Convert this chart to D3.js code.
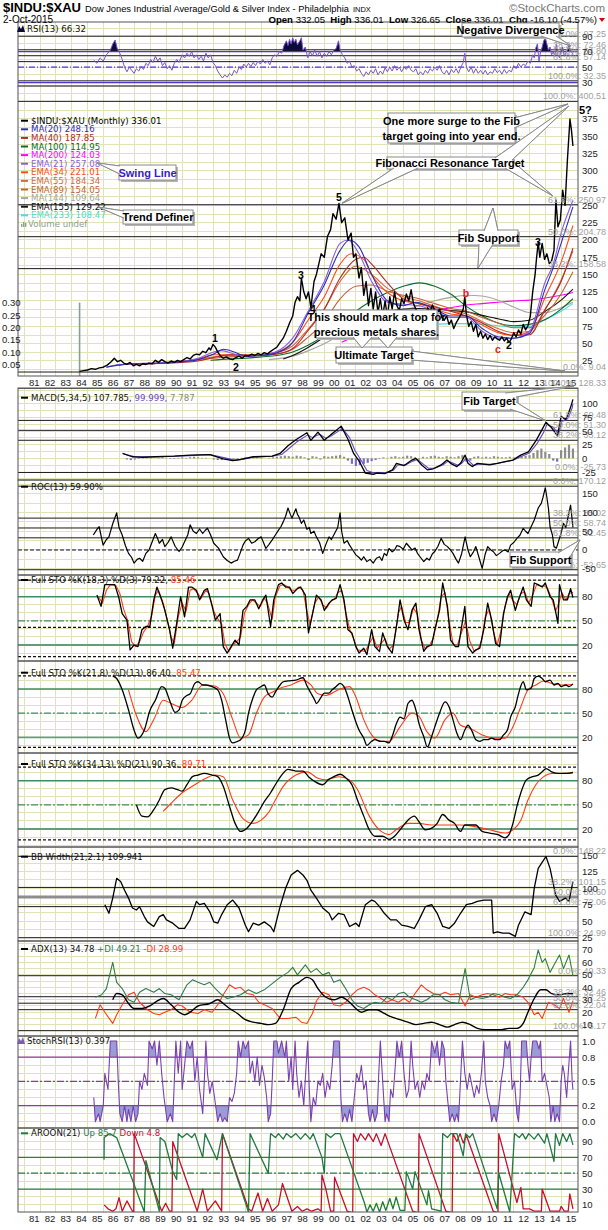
<!DOCTYPE html>
<html><head><meta charset="utf-8">
<script src="https://cdn.jsdelivr.net/npm/d3@7"></script>
<style>html,body{margin:0;padding:0;background:#fff;}svg{display:block;}</style>
</head><body>
<svg id="chart" width="608" height="1230" xmlns="http://www.w3.org/2000/svg"></svg>
<script>
// ================= DATA =================
const yearTicks = d3.range(1981, 2016);
const yearLabels = yearTicks.map(y => String(y % 100).padStart(2, '0'));

const price = [[1984.5,10],[1984.75,11],[1985.0,12],[1985.25,14],[1985.5,13],[1985.75,15],[1986.0,16],[1986.25,19],[1986.5,24],[1986.7,29],[1986.9,24],[1987.1,26],[1987.3,22],[1987.5,20],[1987.7,23],[1987.9,18],[1988.1,20],[1988.3,18],[1988.5,21],[1988.7,20],[1988.9,22],[1989.1,21],[1989.3,26],[1989.5,23],[1989.7,27],[1989.9,24],[1990.1,22],[1990.3,25],[1990.5,23],[1990.7,26],[1990.9,24],[1991.1,27],[1991.3,30],[1991.5,28],[1991.7,33],[1991.9,35],[1992.1,34],[1992.3,39],[1992.5,37],[1992.7,44],[1992.8,41],[1992.95,49],[1993.1,45],[1993.25,38],[1993.4,33],[1993.6,29],[1993.8,31],[1994.0,28],[1994.2,27],[1994.4,30],[1994.6,32],[1994.8,29],[1995.0,33],[1995.2,32],[1995.4,35],[1995.6,33],[1995.8,36],[1996.0,34],[1996.2,37],[1996.4,35],[1996.6,39],[1996.8,42],[1997.0,45],[1997.2,52],[1997.4,58],[1997.6,68],[1997.8,80],[1998.0,90],[1998.15,110],[1998.3,118],[1998.45,112],[1998.55,145],[1998.7,125],[1998.85,115],[1999.0,125],[1999.15,102],[1999.35,140],[1999.5,150],[1999.65,165],[1999.8,180],[2000.0,175],[2000.2,205],[2000.4,215],[2000.55,238],[2000.75,230],[2000.93,253],[2001.1,225],[2001.3,232],[2001.5,200],[2001.7,210],[2001.85,175],[2002.0,180],[2002.2,145],[2002.35,160],[2002.5,120],[2002.65,140],[2002.8,105],[2002.95,130],[2003.1,100],[2003.25,125],[2003.4,95],[2003.55,115],[2003.7,90],[2003.85,112],[2004.0,88],[2004.15,118],[2004.3,100],[2004.45,125],[2004.6,105],[2004.75,98],[2004.9,115],[2005.05,108],[2005.2,122],[2005.35,112],[2005.5,128],[2005.65,108],[2005.8,100],[2005.95,92],[2006.1,88],[2006.25,98],[2006.4,90],[2006.55,102],[2006.7,96],[2006.85,106],[2007.0,98],[2007.15,92],[2007.3,100],[2007.45,88],[2007.6,84],[2007.75,90],[2007.9,78],[2008.05,84],[2008.2,72],[2008.35,80],[2008.5,86],[2008.65,92],[2008.8,100],[2008.9,118],[2009.0,92],[2009.15,75],[2009.3,82],[2009.45,68],[2009.6,78],[2009.75,60],[2009.9,68],[2010.05,58],[2010.2,64],[2010.35,56],[2010.5,62],[2010.65,55],[2010.8,60],[2010.95,57],[2011.1,55],[2011.25,60],[2011.4,54],[2011.55,58],[2011.7,52],[2011.85,57],[2012.0,66],[2012.15,60],[2012.3,70],[2012.45,64],[2012.6,78],[2012.75,70],[2012.9,76],[2013.05,90],[2013.2,125],[2013.35,150],[2013.45,175],[2013.55,197],[2013.65,175],[2013.8,195],[2013.95,172],[2014.1,180],[2014.25,166],[2014.4,170],[2014.55,185],[2014.67,258],[2014.8,219],[2014.95,229],[2015.1,272],[2015.25,250],[2015.4,316],[2015.56,375],[2015.65,360],[2015.75,336]];

const ma20 = [[1986.2,16],[1987,19],[1988,21],[1989,21],[1990,22],[1991,24],[1992,27],[1993,35],[1993.6,42],[1994.3,38],[1995,32],[1996,33],[1997,37],[1998,52],[1999,95],[2000,135],[2001,185],[2001.6,200],[2002.2,190],[2003,150],[2004,112],[2005,105],[2005.8,110],[2007,100],[2008,90],[2009,90],[2010,72],[2011,60],[2012,58],[2013,65],[2014,130],[2014.5,160],[2015,195],[2015.75,248]];
const ema21 = [[1986.2,16],[1987,20],[1988,21],[1989,22],[1990,23],[1991,25],[1992,29],[1993,38],[1993.5,40],[1994.3,35],[1995,32],[1996,34],[1997,39],[1998,58],[1999,98],[2000,140],[2001,195],[2001.5,200],[2002.2,180],[2003,140],[2004,110],[2005,107],[2006,105],[2007,97],[2008,88],[2009,88],[2010,68],[2011,58],[2012,58],[2013,68],[2014,140],[2014.5,165],[2015,210],[2015.75,257]];
const ma40 = [[1987.8,20],[1989,21],[1990,22],[1991,23],[1992,25],[1993,30],[1994,34],[1995,34],[1996,33],[1997,35],[1998,43],[1999,70],[2000,100],[2001,145],[2002,172],[2002.5,175],[2003,165],[2004,138],[2005,115],[2006,108],[2007,103],[2008,97],[2009,90],[2010,80],[2011,68],[2012,62],[2013,63],[2014,100],[2015,140],[2015.75,188]];
const ema34 = [[1987,19],[1988,21],[1989,21],[1990,23],[1991,24],[1992,28],[1993,34],[1994,34],[1995,33],[1996,34],[1997,38],[1998,52],[1999,85],[2000,118],[2001,165],[2001.7,180],[2002.5,172],[2003,150],[2004,124],[2005,112],[2006,108],[2007,100],[2008,93],[2009,90],[2010,77],[2011,66],[2012,62],[2013,68],[2014,118],[2015,168],[2015.75,221]];
const ema55 = [[1989.1,21],[1990,22],[1991,24],[1992,27],[1993,31],[1994,33],[1995,33],[1996,34],[1997,37],[1998,47],[1999,72],[2000,100],[2001,140],[2002,162],[2003,150],[2004,130],[2005,118],[2006,112],[2007,104],[2008,97],[2009,93],[2010,82],[2011,72],[2012,66],[2013,68],[2014,100],[2015,142],[2015.75,184]];
const ema89 = [[1992,26],[1993,29],[1994,31],[1995,32],[1996,33],[1997,35],[1998,42],[1999,60],[2000,82],[2001,115],[2002,133],[2003,135],[2004,126],[2005,120],[2006,115],[2007,108],[2008,101],[2009,97],[2010,88],[2011,80],[2012,73],[2013,73],[2014,92],[2015,122],[2015.75,154]];
const ma100 = [[1992.8,26],[1994,28],[1995,29],[1996,31],[1997,33],[1998,38],[1999,48],[2000,62],[2001,80],[2002,97],[2003,112],[2004,124],[2005,133],[2006,138],[2007,133],[2008,122],[2009,104],[2010,90],[2011,80],[2012,76],[2013,78],[2014,85],[2015,100],[2015.75,115]];
const ma144 = [[1996.5,27],[1997,28],[1998,32],[1999,40],[2000,50],[2001,62],[2002,72],[2003,82],[2004,90],[2005,98],[2006,105],[2007,112],[2008,117],[2009,120],[2010,119],[2011,113],[2012,103],[2013,95],[2014,95],[2015,102],[2015.75,110]];
const ema155 = [[1997.4,28],[1998,33],[1999,45],[2000,60],[2001,80],[2002,90],[2003,95],[2004,97],[2005,100],[2006,101],[2007,100],[2008,98],[2009,96],[2010,91],[2011,86],[2012,82],[2013,84],[2014,97],[2015,113],[2015.75,129]];
const ma200 = [[2001.1,52],[2002,62],[2003,72],[2004,80],[2005,87],[2006,93],[2007,98],[2008,102],[2009,106],[2010,108],[2011,110],[2012,112],[2013,113],[2014,116],[2015,120],[2015.75,124]];
const ema233 = [[2003.9,70],[2005,73],[2006,76],[2007,78],[2008,79],[2009,79],[2010,78],[2011,76],[2012,74],[2013,75],[2014,85],[2015,97],[2015.75,108]];
const volume = [[1984.5,0.30]];

const rsi = [[1985.4,59],[1985.6,55],[1985.8,62],[1986.0,58],[1986.2,66],[1986.45,72],[1986.6,80],[1986.75,85],[1986.9,73],[1987.05,68],[1987.2,60],[1987.35,50],[1987.5,44],[1987.65,50],[1987.8,46],[1987.95,42],[1988.1,48],[1988.25,45],[1988.4,51],[1988.55,47],[1988.7,55],[1988.85,52],[1989.0,60],[1989.15,56],[1989.3,64],[1989.45,58],[1989.6,62],[1989.75,52],[1989.9,56],[1990.05,48],[1990.2,52],[1990.35,46],[1990.5,55],[1990.65,60],[1990.8,56],[1991.0,66],[1991.15,62],[1991.3,68],[1991.45,64],[1991.6,70],[1991.75,62],[1991.9,66],[1992.05,60],[1992.2,64],[1992.35,58],[1992.5,68],[1992.65,62],[1992.8,66],[1992.95,56],[1993.1,52],[1993.25,45],[1993.4,40],[1993.55,36],[1993.7,40],[1993.85,37],[1994.0,42],[1994.15,39],[1994.3,46],[1994.45,42],[1994.6,50],[1994.75,47],[1994.9,54],[1995.05,50],[1995.2,55],[1995.35,51],[1995.5,56],[1995.65,52],[1995.8,58],[1995.95,54],[1996.1,60],[1996.25,55],[1996.4,58],[1996.55,53],[1996.7,62],[1996.85,66],[1997.0,64],[1997.15,70],[1997.3,68],[1997.45,78],[1997.6,84],[1997.7,78],[1997.8,86],[1997.9,80],[1998.0,88],[1998.1,82],[1998.2,86],[1998.3,79],[1998.45,84],[1998.55,88],[1998.65,72],[1998.8,76],[1998.95,62],[1999.1,70],[1999.25,65],[1999.4,72],[1999.55,64],[1999.7,70],[1999.85,62],[2000.0,68],[2000.15,64],[2000.3,70],[2000.45,66],[2000.6,72],[2000.75,74],[2000.9,84],[2001.0,72],[2001.15,66],[2001.3,62],[2001.45,55],[2001.6,58],[2001.75,50],[2001.9,52],[2002.05,45],[2002.2,48],[2002.35,42],[2002.5,38],[2002.65,44],[2002.8,40],[2002.95,46],[2003.1,42],[2003.25,48],[2003.4,40],[2003.55,45],[2003.7,41],[2003.85,49],[2004.0,44],[2004.15,50],[2004.3,45],[2004.45,52],[2004.6,46],[2004.75,50],[2004.9,44],[2005.05,50],[2005.2,47],[2005.35,52],[2005.5,46],[2005.65,44],[2005.8,48],[2005.95,40],[2006.1,44],[2006.25,40],[2006.4,46],[2006.55,42],[2006.7,48],[2006.85,45],[2007.0,50],[2007.15,46],[2007.3,52],[2007.45,44],[2007.6,41],[2007.75,46],[2007.9,40],[2008.05,47],[2008.2,43],[2008.35,48],[2008.5,42],[2008.65,50],[2008.8,56],[2008.9,68],[2009.0,50],[2009.15,44],[2009.3,50],[2009.45,42],[2009.6,48],[2009.75,42],[2009.9,46],[2010.05,41],[2010.2,46],[2010.35,40],[2010.5,44],[2010.65,42],[2010.8,48],[2010.95,43],[2011.1,46],[2011.25,41],[2011.4,47],[2011.55,42],[2011.7,46],[2011.85,44],[2012.0,52],[2012.15,48],[2012.3,55],[2012.45,50],[2012.6,54],[2012.75,52],[2012.9,58],[2013.05,55],[2013.2,66],[2013.3,62],[2013.4,75],[2013.5,80],[2013.6,58],[2013.7,70],[2013.8,76],[2013.9,84],[2014.0,88],[2014.1,80],[2014.2,72],[2014.3,76],[2014.4,66],[2014.5,70],[2014.6,64],[2014.7,80],[2014.8,66],[2014.9,62],[2015.0,72],[2015.1,76],[2015.2,64],[2015.35,70],[2015.5,78],[2015.6,72],[2015.75,66.32]];

const macd = [[1987.22,9],[1987.83,3],[1988.5,2],[1989.3,3],[1990.5,4],[1991.5,6],[1992.75,7],[1993.6,-1],[1994.2,-4],[1994.7,-2],[1995.5,3],[1996.7,4],[1997.2,9],[1997.7,23],[1998.2,34],[1998.9,47],[1999.15,33],[1999.6,48],[2000.0,33],[2000.4,43],[2000.75,51],[2001.07,59],[2001.5,35],[2001.86,9],[2002.23,-6],[2002.6,-27],[2003.1,-29],[2003.34,-27],[2003.83,-28],[2004.32,-21],[2004.57,-9],[2005.06,-13],[2005.55,-3],[2005.8,0],[2006.17,-12],[2006.53,-21],[2006.9,-19],[2007.4,-12],[2007.77,-3],[2008.0,-9],[2008.4,-15],[2008.63,-9],[2008.92,6],[2009.1,-9],[2009.37,-15],[2009.7,-9],[2010.47,-12],[2010.96,-9],[2011.45,-6],[2011.95,-3],[2012.44,6],[2012.93,12],[2013.42,33],[2013.8,53],[2014.04,66],[2014.4,56],[2014.77,41],[2015.0,77],[2015.27,71],[2015.4,77],[2015.64,97],[2015.75,108]];
const macdSignal = [[1987.3,8],[1987.9,4],[1989.3,3],[1990.5,4],[1991.5,5],[1992.75,7],[1993.7,1],[1994.3,-3],[1994.8,-2],[1995.5,2],[1996.7,4],[1997.3,7],[1997.8,19],[1998.3,31],[1998.95,43],[1999.25,38],[1999.7,44],[2000.1,37],[2000.5,42],[2000.85,49],[2001.15,55],[2001.6,38],[2001.95,14],[2002.3,-2],[2002.7,-22],[2003.2,-27],[2003.4,-27],[2003.9,-26],[2004.4,-21],[2004.65,-12],[2005.15,-12],[2005.6,-5],[2005.9,-2],[2006.25,-10],[2006.6,-18],[2007.0,-18],[2007.5,-12],[2007.85,-5],[2008.1,-8],[2008.5,-13],[2008.7,-9],[2009.0,1],[2009.2,-6],[2009.45,-13],[2009.8,-10],[2010.5,-11],[2011.0,-9],[2011.5,-6],[2012.0,-3],[2012.5,4],[2013.0,10],[2013.5,28],[2013.9,48],[2014.1,62],[2014.45,58],[2014.85,45],[2015.05,68],[2015.3,70],[2015.45,74],[2015.7,92],[2015.75,100]];
const histStart = 1987.5, histStep = 0.25;
const macdHist = [-2,-3,-2,-1, 1,2,1,0, 1,2,1,-1, -1,1,2,1, 2,3,2,1, 1,0,-2,-3, -3,-2,-3,-2, -1,1,2,2, 1,2,1,0, 1,2,3,4, 5,4,3,5, 4,2,-3,4, 3,-2,4,3, 4,5,6,3, -4,-10,-14,-12, -10,-8,-5,-3, -1,2,1,3, 4,2,3,5, 4,2,-2,3, 2,4,5,3, 2,4,3,2, 4,6,-6,-4, 3,4,2,3, 2,4,3,2, 2,3,2,3, 4,5,6,10, 15,18,12,8, -4,-6,15,20, 25,18];

const roc = [[1985.37,40],[1985.6,55],[1985.74,62],[1985.99,13],[1986.2,28],[1986.36,35],[1986.6,70],[1986.85,99],[1987.0,60],[1987.2,40],[1987.4,12],[1987.6,-9],[1987.8,-20],[1987.95,-35],[1988.15,-25],[1988.3,-22],[1988.5,-30],[1988.7,-9],[1988.9,0],[1989.1,22],[1989.3,44],[1989.45,30],[1989.55,18],[1989.75,28],[1989.9,9],[1990.1,20],[1990.3,35],[1990.55,10],[1990.8,-4],[1991.0,8],[1991.15,22],[1991.35,40],[1991.5,67],[1991.7,50],[1991.9,44],[1992.1,56],[1992.3,44],[1992.45,52],[1992.6,58],[1992.8,40],[1993.0,18],[1993.3,5],[1993.6,-18],[1993.85,-28],[1994.1,-35],[1994.3,-30],[1994.5,-27],[1994.7,-5],[1994.85,13],[1995.0,24],[1995.2,31],[1995.4,18],[1995.6,22],[1995.8,30],[1996.0,35],[1996.15,20],[1996.3,4],[1996.5,15],[1996.7,27],[1996.9,40],[1997.1,53],[1997.25,62],[1997.4,75],[1997.55,90],[1997.7,112],[1997.85,95],[1997.95,85],[1998.1,100],[1998.2,110],[1998.3,95],[1998.4,88],[1998.55,71],[1998.7,80],[1998.9,55],[1999.05,60],[1999.15,44],[1999.35,50],[1999.5,35],[1999.7,20],[1999.9,-9],[2000.1,15],[2000.3,35],[2000.45,28],[2000.6,40],[2000.85,60],[2001.0,99],[2001.1,50],[2001.25,18],[2001.45,25],[2001.6,13],[2001.8,0],[2002.0,-13],[2002.2,-20],[2002.35,-27],[2002.5,-18],[2002.7,-31],[2002.9,-25],[2003.1,-35],[2003.3,-22],[2003.5,-18],[2003.65,-28],[2003.8,-9],[2003.95,-15],[2004.1,4],[2004.3,-5],[2004.45,0],[2004.6,12],[2004.8,9],[2005.0,2],[2005.2,18],[2005.4,8],[2005.55,0],[2005.75,5],[2005.9,-9],[2006.1,-20],[2006.3,-31],[2006.5,-22],[2006.65,-27],[2006.85,-10],[2007.0,-4],[2007.2,10],[2007.4,31],[2007.6,15],[2007.8,9],[2008.0,0],[2008.15,-9],[2008.35,-25],[2008.5,-35],[2008.7,-10],[2008.92,35],[2009.1,0],[2009.25,-18],[2009.45,-5],[2009.6,9],[2009.8,-20],[2010.0,-49],[2010.2,-10],[2010.35,9],[2010.55,0],[2010.7,-4],[2010.9,-15],[2011.1,-9],[2011.3,-2],[2011.45,0],[2011.65,-5],[2011.8,13],[2012.0,20],[2012.2,31],[2012.4,40],[2012.6,58],[2012.75,50],[2012.9,44],[2013.1,62],[2013.3,80],[2013.55,112],[2013.75,125],[2013.85,140],[2014.0,166],[2014.1,140],[2014.2,110],[2014.3,62],[2014.45,40],[2014.55,9],[2014.7,5],[2014.8,18],[2015.0,45],[2015.15,71],[2015.3,60],[2015.45,90],[2015.6,120],[2015.75,60]];

const sto1K = [[1985.6,82],[1985.86,68],[1986.1,95],[1986.36,95],[1986.73,95],[1986.97,80],[1987.2,59],[1987.5,51],[1987.7,14],[1987.95,20],[1988.2,18],[1988.45,39],[1988.7,43],[1988.95,43],[1989.2,76],[1989.4,92],[1989.7,76],[1989.9,63],[1990.2,39],[1990.4,16],[1990.65,47],[1990.9,80],[1991.15,55],[1991.4,92],[1991.6,92],[1991.9,88],[1992.1,76],[1992.4,88],[1992.6,90],[1992.9,68],[1993.1,51],[1993.4,59],[1993.6,18],[1993.85,10],[1994.1,18],[1994.35,26],[1994.6,20],[1994.85,63],[1995.1,68],[1995.3,76],[1995.6,76],[1995.85,65],[1996.1,76],[1996.3,82],[1996.6,43],[1996.8,76],[1997.1,95],[1997.3,97],[1997.55,92],[1997.8,92],[1998.0,84],[1998.3,90],[1998.5,92],[1998.8,82],[1999.0,35],[1999.3,63],[1999.5,82],[1999.8,76],[2000.0,63],[2000.3,72],[2000.5,76],[2000.75,78],[2001.0,95],[2001.25,76],[2001.5,39],[2001.75,35],[2002.0,18],[2002.2,10],[2002.5,16],[2002.7,8],[2003.0,39],[2003.2,18],[2003.5,12],[2003.7,35],[2004.0,18],[2004.3,10],[2004.6,47],[2004.8,76],[2005.05,51],[2005.3,39],[2005.55,63],[2005.8,72],[2006.0,39],[2006.3,12],[2006.5,18],[2006.8,20],[2007.0,39],[2007.3,63],[2007.5,97],[2007.8,68],[2008.0,26],[2008.3,18],[2008.5,18],[2008.9,68],[2009.1,18],[2009.4,10],[2009.6,14],[2009.85,16],[2010.1,39],[2010.35,72],[2010.6,51],[2010.85,22],[2011.1,18],[2011.35,59],[2011.6,80],[2011.8,88],[2012.1,63],[2012.3,76],[2012.6,92],[2012.8,76],[2013.1,68],[2013.3,97],[2013.55,95],[2013.8,92],[2014.0,97],[2014.3,80],[2014.5,76],[2014.8,47],[2014.9,95],[2015.15,76],[2015.4,76],[2015.6,90],[2015.75,79]];
const sto1D = [[1985.7,80],[1985.95,72],[1986.2,88],[1986.45,95],[1986.8,94],[1987.05,84],[1987.3,64],[1987.55,50],[1987.8,24],[1988.05,18],[1988.3,24],[1988.55,36],[1988.8,43],[1989.05,55],[1989.3,82],[1989.5,88],[1989.8,72],[1990.0,56],[1990.3,30],[1990.5,22],[1990.75,55],[1991.0,72],[1991.25,62],[1991.5,88],[1991.7,90],[1992.0,84],[1992.2,78],[1992.5,88],[1992.7,84],[1993.0,62],[1993.2,54],[1993.5,46],[1993.7,22],[1993.95,12],[1994.2,20],[1994.45,24],[1994.7,30],[1994.95,60],[1995.2,70],[1995.45,76],[1995.7,72],[1995.95,68],[1996.2,78],[1996.4,72],[1996.7,52],[1996.9,80],[1997.2,94],[1997.45,95],[1997.7,92],[1997.9,88],[1998.15,88],[1998.4,92],[1998.65,88],[1998.9,62],[1999.1,45],[1999.4,72],[1999.65,80],[1999.9,70],[2000.15,66],[2000.4,74],[2000.65,77],[2000.85,85],[2001.1,88],[2001.35,62],[2001.6,40],[2001.85,28],[2002.1,14],[2002.35,13],[2002.6,12],[2002.85,22],[2003.1,30],[2003.35,16],[2003.6,22],[2003.85,28],[2004.1,15],[2004.4,20],[2004.7,60],[2004.9,68],[2005.15,48],[2005.4,48],[2005.65,66],[2005.9,58],[2006.15,26],[2006.4,15],[2006.65,19],[2006.9,28],[2007.15,50],[2007.4,80],[2007.65,85],[2007.9,50],[2008.15,22],[2008.4,18],[2008.6,30],[2008.95,50],[2009.2,26],[2009.5,12],[2009.75,15],[2009.95,25],[2010.2,55],[2010.45,64],[2010.7,38],[2010.95,20],[2011.2,38],[2011.45,68],[2011.7,84],[2011.95,75],[2012.2,70],[2012.45,84],[2012.7,86],[2012.95,72],[2013.2,82],[2013.45,95],[2013.7,93],[2013.9,94],[2014.15,90],[2014.4,78],[2014.65,62],[2014.85,72],[2015.05,85],[2015.3,76],[2015.5,84],[2015.75,85.5]];

const sto2K = [[1986.6,96],[1986.85,93],[1987.2,79],[1987.6,54],[1987.95,29],[1988.2,19],[1988.6,29],[1988.95,53],[1989.3,66],[1989.7,83],[1989.9,81],[1990.2,66],[1990.55,51],[1990.8,54],[1991.0,66],[1991.3,72],[1991.5,74],[1991.8,87],[1992.0,89],[1992.3,85],[1992.5,85],[1992.9,83],[1993.25,79],[1993.5,66],[1993.75,42],[1994.0,19],[1994.2,13],[1994.5,15],[1994.7,17],[1995.0,29],[1995.2,50],[1995.5,70],[1995.7,79],[1996.0,83],[1996.2,85],[1996.45,74],[1996.7,70],[1996.9,76],[1997.2,85],[1997.4,89],[1997.7,90],[1998.2,91],[1998.65,94],[1998.9,84],[1999.15,75],[1999.4,66],[1999.5,62],[1999.8,70],[2000.0,75],[2000.3,75],[2000.5,79],[2000.75,83],[2001.0,87],[2001.25,83],[2001.5,70],[2001.75,54],[2002.0,39],[2002.2,29],[2002.5,19],[2002.7,10],[2003.0,15],[2003.2,17],[2003.6,15],[2003.8,15],[2004.1,13],[2004.3,21],[2004.57,37],[2004.8,45],[2005.05,43],[2005.3,62],[2005.55,66],[2005.8,54],[2006.0,37],[2006.3,21],[2006.53,8],[2006.8,21],[2007.0,33],[2007.3,50],[2007.65,64],[2007.9,58],[2008.15,42],[2008.4,25],[2008.63,17],[2008.9,29],[2009.1,35],[2009.37,27],[2009.6,17],[2009.85,15],[2010.1,17],[2010.35,17],[2010.6,19],[2010.85,17],[2011.1,17],[2011.35,23],[2011.6,29],[2011.8,45],[2012.1,58],[2012.3,74],[2012.6,89],[2012.8,79],[2013.1,81],[2013.3,93],[2013.55,96],[2013.8,93],[2014.0,89],[2014.3,91],[2014.55,85],[2014.8,87],[2015.0,83],[2015.3,85],[2015.5,83],[2015.75,86.4]];
const sto2D = [[1987.6,79],[1988.1,47],[1988.7,27],[1989.2,42],[1989.8,66],[1990.3,62],[1991.0,57],[1991.6,66],[1992.3,85],[1993.0,84],[1993.6,74],[1994.2,42],[1994.7,19],[1995.2,23],[1995.7,50],[1996.2,70],[1996.7,76],[1997.2,81],[1997.9,85],[1998.65,91],[1999.15,85],[1999.6,74],[2000.1,72],[2000.9,79],[2001.6,83],[2002.0,70],[2002.5,42],[2003.0,23],[2003.6,15],[2004.1,15],[2004.8,33],[2005.55,50],[2006.0,46],[2006.5,27],[2007.0,19],[2007.65,42],[2008.15,50],[2008.63,35],[2009.25,31],[2010.0,23],[2010.7,19],[2011.45,19],[2011.95,33],[2012.45,58],[2012.9,79],[2013.4,85],[2013.9,90],[2014.4,87],[2015.0,85],[2015.75,85.5]];

const sto3K = [[1988.1,50],[1988.45,36],[1988.8,35],[1989.2,44],[1989.55,56],[1989.9,69],[1990.3,71],[1990.7,69],[1991.0,67],[1991.3,75],[1991.65,85],[1992.0,87],[1992.4,89],[1992.9,87],[1993.25,85],[1993.6,73],[1994.0,48],[1994.35,27],[1994.7,17],[1995.1,21],[1995.5,31],[1995.85,42],[1996.2,54],[1996.6,65],[1996.9,75],[1997.3,87],[1997.7,94],[1998.2,92],[1998.65,92],[1999.0,85],[1999.4,79],[1999.9,75],[2000.3,82],[2000.6,85],[2001.0,88],[2001.4,83],[2001.75,75],[2002.1,56],[2002.5,36],[2002.85,19],[2003.2,11],[2003.7,11],[2004.1,7],[2004.45,11],[2004.8,19],[2005.3,31],[2005.7,36],[2006.0,29],[2006.4,19],[2006.8,21],[2007.15,27],[2007.5,38],[2007.9,31],[2008.25,27],[2008.63,17],[2008.9,25],[2009.25,25],[2009.6,25],[2010.0,17],[2010.47,15],[2011.0,13],[2011.45,9],[2011.7,13],[2011.95,27],[2012.2,48],[2012.45,65],[2012.8,81],[2013.2,85],[2013.55,87],[2013.8,91],[2014.05,95],[2014.4,91],[2014.9,89],[2015.4,89],[2015.75,90.4]];
const sto3D = [[1989.8,42],[1990.3,52],[1991.0,65],[1991.8,75],[1992.5,83],[1993.1,87],[1993.6,85],[1994.2,56],[1994.85,33],[1995.5,27],[1996.0,31],[1996.45,40],[1996.9,56],[1997.4,73],[1998.2,87],[1998.9,91],[1999.6,83],[2000.1,81],[2000.9,85],[2001.6,81],[2002.1,69],[2002.85,36],[2003.6,17],[2004.1,13],[2004.55,19],[2005.3,27],[2006.0,27],[2006.8,25],[2007.77,25],[2008.63,25],[2009.5,23],[2010.47,19],[2011.45,15],[2011.95,19],[2012.45,31],[2012.9,56],[2013.4,75],[2013.9,85],[2014.4,89],[2015.0,89],[2015.75,89.7]];

const bbWidth = [[1986.1,75],[1986.36,62],[1986.6,85],[1986.85,115],[1987.1,110],[1987.35,97],[1987.6,85],[1987.85,70],[1988.1,67],[1988.3,72],[1988.6,57],[1988.8,49],[1989.2,42],[1989.55,57],[1989.8,60],[1990.0,52],[1990.4,47],[1990.8,39],[1991.15,39],[1991.5,52],[1991.9,80],[1992.1,75],[1992.4,77],[1992.75,64],[1993.0,49],[1993.25,47],[1993.5,60],[1993.85,75],[1994.2,82],[1994.6,70],[1995.0,44],[1995.2,34],[1995.5,47],[1995.85,44],[1996.2,49],[1996.6,42],[1996.8,34],[1997.2,72],[1997.55,100],[1997.9,120],[1998.3,127],[1998.65,120],[1998.9,112],[1999.15,97],[1999.5,85],[1999.9,70],[2000.3,62],[2000.5,52],[2000.9,62],[2001.25,60],[2001.6,42],[2002.0,47],[2002.2,42],[2002.6,75],[2003.0,82],[2003.2,80],[2003.5,72],[2003.8,62],[2004.2,52],[2004.57,52],[2004.9,44],[2005.3,42],[2005.7,39],[2006.0,52],[2006.4,72],[2006.8,75],[2007.15,62],[2007.5,42],[2007.9,39],[2008.25,47],[2008.63,62],[2009.0,75],[2009.37,77],[2009.7,80],[2010.1,82],[2010.6,82],[2010.7,32],[2010.96,34],[2011.3,32],[2011.7,32],[2012.1,27],[2012.3,44],[2012.7,64],[2013.1,60],[2013.3,100],[2013.55,130],[2013.9,143],[2014.04,148],[2014.3,130],[2014.65,90],[2014.9,80],[2015.27,85],[2015.5,80],[2015.75,110]];

const adx = [[1986.6,30],[1986.85,35],[1987.2,34],[1987.6,27],[1987.95,23],[1988.45,23],[1988.95,25],[1989.4,29],[1989.8,31],[1990.3,26],[1990.8,20],[1991.15,18],[1991.5,20],[1992.0,25],[1992.75,27],[1993.25,30],[1993.6,27],[1994.0,23],[1994.5,19],[1995.0,14],[1995.5,12],[1996.0,11],[1996.45,10],[1996.9,11],[1997.4,22],[1997.9,39],[1998.4,44],[1998.9,48],[1999.25,46],[1999.6,39],[2000.1,32],[2000.6,30],[2001.1,32],[2001.6,28],[2002.0,23],[2002.35,20],[2002.85,22],[2003.3,22],[2003.8,19],[2004.3,16],[2004.8,14],[2005.3,12],[2005.8,10],[2006.3,11],[2006.8,12],[2007.3,10],[2007.8,8],[2008.25,10],[2008.75,12],[2009.25,10],[2009.7,7],[2010.2,6],[2010.7,6],[2011.2,6],[2011.7,7],[2012.2,7],[2012.6,11],[2012.9,20],[2013.3,31],[2013.7,38],[2014.04,38],[2014.4,35],[2014.9,34],[2015.4,35],[2015.75,34.78]];
const plusDI = [[1985.5,32],[1985.9,34],[1986.2,39],[1986.6,60],[1986.85,44],[1987.2,39],[1987.6,30],[1987.95,28],[1988.3,36],[1988.7,39],[1989.2,36],[1989.55,39],[1989.9,35],[1990.3,34],[1990.8,30],[1991.3,42],[1991.65,46],[1992.0,44],[1992.4,42],[1992.75,44],[1993.1,39],[1993.5,34],[1993.85,31],[1994.2,32],[1994.7,34],[1995.2,38],[1995.7,35],[1996.2,38],[1996.7,43],[1997.2,48],[1997.7,52],[1998.0,56],[1998.3,50],[1998.8,58],[1999.15,52],[1999.5,55],[1999.9,50],[2000.3,52],[2000.6,44],[2001.0,46],[2001.35,39],[2001.75,30],[2002.1,25],[2002.5,23],[2002.85,26],[2003.2,28],[2003.6,27],[2003.95,32],[2004.3,30],[2004.7,35],[2005.05,36],[2005.4,32],[2005.8,30],[2006.15,28],[2006.5,30],[2006.9,34],[2007.3,34],[2007.65,30],[2008.0,28],[2008.5,27],[2008.92,55],[2009.25,30],[2009.6,32],[2010.0,31],[2010.35,32],[2010.7,35],[2011.1,34],[2011.45,32],[2011.8,31],[2012.2,34],[2012.6,40],[2012.9,46],[2013.3,56],[2013.55,70],[2013.8,60],[2014.0,63],[2014.3,52],[2014.55,58],[2014.9,66],[2015.15,55],[2015.5,66],[2015.75,49.21]];
const minusDI = [[1985.5,15],[1985.8,26],[1986.1,20],[1986.6,11],[1986.85,18],[1987.2,26],[1987.6,34],[1987.95,36],[1988.3,28],[1988.8,22],[1989.2,19],[1989.55,18],[1989.9,20],[1990.3,22],[1990.7,26],[1991.0,25],[1991.5,20],[1992.0,19],[1992.4,22],[1992.9,20],[1993.25,26],[1993.6,34],[1994.0,42],[1994.35,39],[1994.7,40],[1995.1,35],[1995.5,34],[1995.85,28],[1996.2,26],[1996.7,23],[1997.2,15],[1997.7,15],[1998.2,16],[1998.55,12],[1998.9,11],[1999.25,19],[1999.5,29],[1999.9,36],[2000.3,34],[2000.6,26],[2001.0,25],[2001.35,28],[2001.75,34],[2002.1,38],[2002.5,40],[2002.85,38],[2003.2,34],[2003.6,31],[2003.95,28],[2004.3,30],[2004.7,28],[2005.05,31],[2005.4,28],[2005.8,36],[2006.15,42],[2006.5,38],[2006.9,35],[2007.3,34],[2007.65,36],[2008.0,34],[2008.5,35],[2008.92,25],[2009.25,34],[2009.6,32],[2010.0,34],[2010.35,35],[2010.7,34],[2011.1,32],[2011.45,35],[2011.8,34],[2012.2,34],[2012.6,32],[2012.9,28],[2013.3,18],[2013.55,20],[2013.8,15],[2014.2,28],[2014.55,26],[2014.9,23],[2015.15,31],[2015.5,20],[2015.75,28.99]];

const stochRsi = [[1985.4,0.3],[1985.5,0],[1985.7,0.1],[1985.8,0],[1986.0,0.2],[1986.1,0.6],[1986.3,0.4],[1986.45,1],[1986.85,1],[1986.95,0.5],[1987.05,0.1],[1987.2,0],[1987.35,0.2],[1987.5,0],[1987.6,0.15],[1987.75,0],[1987.9,0.2],[1988.05,0],[1988.2,0.1],[1988.3,0.5],[1988.45,0.4],[1988.6,0.6],[1988.8,0.45],[1988.9,1],[1989.1,0.9],[1989.25,1],[1989.4,0.7],[1989.55,1],[1989.7,0.6],[1989.85,0.3],[1990.05,0],[1990.25,0.1],[1990.4,0],[1990.5,0.5],[1990.6,1],[1990.75,0.6],[1990.9,1],[1991.0,0.4],[1991.15,0.7],[1991.3,1],[1991.5,0.9],[1991.65,1],[1991.8,0.5],[1991.95,0.8],[1992.1,0.4],[1992.3,0.1],[1992.4,0.5],[1992.5,1],[1992.6,0.6],[1992.75,0.35],[1992.9,0.5],[1993.05,0.3],[1993.25,0],[1993.4,0.1],[1993.55,0],[1993.7,0.05],[1993.85,0],[1994.0,0.3],[1994.15,0.25],[1994.3,0.35],[1994.45,0.6],[1994.55,1],[1994.7,0.8],[1994.85,1],[1995.0,0.9],[1995.2,1],[1995.3,0.6],[1995.45,0.75],[1995.6,0.5],[1995.75,0.8],[1995.9,0.45],[1996.05,0.7],[1996.2,0.55],[1996.35,0.3],[1996.45,0],[1996.6,0.1],[1996.7,0.5],[1996.8,1],[1997.0,1],[1997.1,0.85],[1997.3,1],[1997.5,0.8],[1997.6,1],[1997.75,0.5],[1997.9,0.8],[1998.0,0.4],[1998.15,1],[1998.25,0.6],[1998.4,0.3],[1998.55,0.5],[1998.7,0.2],[1998.85,0.7],[1998.95,1],[1999.05,0.4],[1999.15,0],[1999.3,0.3],[1999.45,0.2],[1999.6,0.5],[1999.75,0.45],[1999.9,0.6],[2000.05,0.3],[2000.2,0.5],[2000.35,0.4],[2000.5,0.7],[2000.6,1],[2000.95,1],[2001.05,0.3],[2001.15,0],[2001.3,0.1],[2001.45,0],[2001.6,0.15],[2001.75,0],[2001.9,0.3],[2002.05,0.6],[2002.2,0.5],[2002.35,0.7],[2002.5,0.4],[2002.65,0.5],[2002.8,0.1],[2002.9,0],[2003.05,0.15],[2003.2,0],[2003.35,0.1],[2003.45,0.6],[2003.55,1],[2003.7,0.5],[2003.85,0],[2003.95,0.1],[2004.1,0],[2004.2,0.4],[2004.35,0.3],[2004.5,0.7],[2004.6,1],[2004.75,0.8],[2004.9,1],[2005.05,0.6],[2005.2,0.3],[2005.35,0.4],[2005.5,1],[2005.6,0.7],[2005.75,0.4],[2005.9,0.5],[2006.05,0.3],[2006.2,0.5],[2006.35,0.4],[2006.5,0.6],[2006.65,0.5],[2006.8,1],[2007.0,0.85],[2007.15,1],[2007.3,0.7],[2007.45,1],[2007.6,0.9],[2007.7,0.5],[2007.85,0.2],[2007.95,0],[2008.1,0.1],[2008.25,0],[2008.4,0.1],[2008.5,0],[2008.6,0.4],[2008.75,1],[2008.9,0.6],[2009.05,0.4],[2009.2,0.6],[2009.35,0.45],[2009.5,0.3],[2009.65,0.45],[2009.8,0.35],[2009.95,0.6],[2010.1,1],[2010.2,0.5],[2010.35,0.3],[2010.5,0.2],[2010.6,0],[2010.75,0.1],[2010.9,0],[2011.05,0.2],[2011.2,0.5],[2011.35,0.7],[2011.45,1],[2011.6,0.9],[2011.75,1],[2011.9,0.4],[2012.05,0.5],[2012.2,0.1],[2012.3,0],[2012.4,0.3],[2012.5,1],[2012.8,1],[2012.9,0.7],[2013.0,0.5],[2013.1,0.8],[2013.2,1],[2013.45,1],[2013.6,0.9],[2013.7,1],[2013.8,0.5],[2013.95,0.6],[2014.1,0.45],[2014.25,0.3],[2014.35,0],[2014.5,0.2],[2014.6,0],[2014.75,0.1],[2014.9,0],[2015.0,0.5],[2015.1,0.7],[2015.2,0.6],[2015.35,0.3],[2015.45,0.6],[2015.6,1],[2015.7,0.5],[2015.75,0.397]];

const aroonUp = [[1986.05,67],[1986.06,95],[1986.4,100],[1986.85,95],[1988.6,1],[1988.7,66],[1989.55,2],[1989.6,95],[1989.9,90],[1990.4,52],[1990.65,42],[1990.75,100],[1991.0,95],[1991.3,100],[1991.6,95],[1991.8,100],[1992.3,70],[1992.45,100],[1993.2,67],[1993.55,100],[1995.2,1],[1995.3,100],[1996.45,50],[1996.6,100],[1996.9,95],[1997.1,100],[1997.4,93],[1997.6,100],[1997.9,95],[1998.2,100],[1998.5,93],[1998.8,100],[1999.1,93],[1999.3,100],[1999.85,70],[2000.0,50],[2000.1,100],[2000.4,95],[2000.7,100],[2001.0,100],[2002.55,12],[2002.7,1],[2002.9,10],[2003.1,2],[2003.3,12],[2003.5,1],[2003.7,14],[2003.9,3],[2004.15,18],[2004.35,5],[2004.55,20],[2004.8,3],[2005.1,3],[2005.2,52],[2005.6,30],[2005.75,52],[2006.5,10],[2006.6,28],[2006.8,5],[2007.4,2],[2007.5,100],[2007.8,95],[2008.0,100],[2008.4,100],[2008.8,72],[2008.95,100],[2009.2,95],[2009.4,100],[2010.95,5],[2011.05,50],[2011.75,1],[2012.05,100],[2012.35,95],[2012.55,100],[2012.75,93],[2012.95,100],[2013.3,93],[2013.55,100],[2013.95,88],[2014.1,100],[2014.55,65],[2014.65,100],[2014.9,85],[2015.1,100],[2015.35,90],[2015.55,100],[2015.75,85.7]];
const aroonDown = [[1986.05,10],[1986.3,5],[1986.6,2],[1986.8,5],[1987.0,19],[1987.2,2],[1987.5,15],[1987.85,2],[1987.93,0],[1987.96,100],[1989.7,2],[1989.95,12],[1990.2,2],[1990.35,2],[1990.4,90],[1991.95,2],[1992.3,30],[1992.6,2],[1993.1,15],[1993.5,2],[1993.55,100],[1995.2,5],[1995.4,2],[1995.8,25],[1996.1,2],[1996.4,18],[1996.7,2],[1997.1,10],[1997.35,37],[1997.95,2],[1998.3,8],[1998.6,2],[1998.9,5],[1999.2,2],[1999.6,5],[1999.8,2],[1999.85,48],[2000.1,30],[2000.4,2],[2000.6,2],[2000.65,45],[2001.45,2],[2001.8,0],[2001.85,100],[2002.1,90],[2002.3,100],[2002.6,92],[2002.8,100],[2003.1,90],[2003.3,100],[2003.6,85],[2003.85,100],[2005.6,2],[2005.95,0],[2006.0,100],[2007.7,2],[2008.1,0],[2008.15,100],[2008.4,90],[2008.6,100],[2008.8,88],[2009.0,98],[2010.7,2],[2011.0,0],[2011.05,100],[2012.2,13],[2012.45,32],[2012.6,5],[2013.0,5],[2013.3,2],[2013.75,2],[2013.8,30],[2014.3,2],[2014.9,2],[2015.0,8],[2015.2,2],[2015.45,2],[2015.55,24],[2015.75,4.8]];

// Fibonacci retracement levels shown on the panels
const fibMain = [[400.51,'100.0%: 400.51'],[250.97,'61.8%: 250.97'],[204.78,'50.0%: 204.78'],[158.58,'38.2%: 158.58'],[9.04,'0.0%: 9.04']];
const fibRsi = [[97.25,'0.0%: 97.25'],[72.46,'38.2%: 72.46'],[64.80,'50.0%: 64.80'],[57.14,'61.8%: 57.14'],[32.35,'100.0%: 32.35']];
const fibMacd = [[128.33,'100.0%: 128.33'],[69.48,'61.8%: 69.48'],[51.30,'50.0%: 51.30'],[33.12,'38.2%: 33.12'],[-25.73,'0.0%: -25.73']];
const fibRoc = [[170.12,'0.0%: 170.12'],[85.02,'38.2%: 85.02'],[58.74,'50.0%: 58.74'],[32.45,'61.8%: 32.45'],[-52.65,'100.0%: -52.65']];
const fibBB = [[148.22,'0.0%: 148.22'],[101.15,'38.2%: 101.15'],[86.60,'50.0%: 86.60'],[72.06,'61.8%: 72.06'],[24.99,'100.0%: 24.99']];
const fibAdx = [[49.33,'0.0%: 49.33'],[32.46,'38.2%: 32.46'],[27.25,'50.0%: 27.25'],[22.04,'61.8%: 22.04'],[5.17,'100.0%: 5.17']];

// ================= DRAWING =================
const L = 18, R = 578;
const x = d3.scaleLinear().domain([1980.6, 2016.07]).range([L, R]);
const svg = d3.select('#chart');
const AF = "'Liberation Sans', Arial, Helvetica, sans-serif";
const VF = "'DejaVu Sans', Verdana, sans-serif";
const GRID = '#e0e3b8';
let clipN = 0;
const panels = [];
const defs = svg.append('defs');

function makePanel(top, bottom, domain, gridVals) {
  const y = d3.scaleLinear().domain(domain).range([bottom, top]);
  const g = svg.append('g');
  g.append('rect').attr('x', L).attr('y', top).attr('width', R - L).attr('height', bottom - top).attr('fill', '#fff');
  const grid = g.append('g').attr('stroke', GRID).attr('stroke-width', 1).attr('shape-rendering', 'crispEdges');
  yearTicks.forEach(yr => grid.append('line').attr('x1', x(yr)).attr('x2', x(yr)).attr('y1', top).attr('y2', bottom));
  gridVals.forEach(v => { const yy = y(v); if (yy > top + 0.5 && yy < bottom - 0.5) grid.append('line').attr('x1', L).attr('x2', R).attr('y1', yy).attr('y2', yy); });
  const id = 'cp' + (clipN++);
  defs.append('clipPath').attr('id', id).append('rect').attr('x', L).attr('y', top).attr('width', R - L).attr('height', bottom - top);
  const d = g.append('g').attr('clip-path', `url(#${id})`);
  const p = { y, g, d, top, bottom };
  panels.push(p);
  return p;
}
function hline(p, v, color, w, dash) {
  p.d.append('line').attr('x1', L).attr('x2', R).attr('y1', p.y(v)).attr('y2', p.y(v))
    .attr('stroke', color).attr('stroke-width', w || 1).attr('stroke-dasharray', dash || null);
}
function drawLine(p, data, color, w, curve) {
  p.d.append('path').datum(data).attr('fill', 'none').attr('stroke', color).attr('stroke-width', w || 1)
    .attr('stroke-linejoin', 'round')
    .attr('d', d3.line().x(d => x(d[0])).y(d => p.y(d[1])).curve(curve || d3.curveLinear));
}
function fillBeyond(p, data, thr, above, color) {
  const id = 'cp' + (clipN++);
  const yT = p.y(thr);
  defs.append('clipPath').attr('id', id).append('rect').attr('x', L).attr('width', R - L)
    .attr('y', above ? p.top : yT).attr('height', above ? yT - p.top : p.bottom - yT);
  p.d.append('path').datum(data).attr('clip-path', `url(#${id})`).attr('fill', color)
    .attr('d', d3.area().x(d => x(d[0])).y0(yT).y1(d => p.y(d[1])));
}
const overlay = svg.append('g'); // texts, raised to the top at the end
function ticks(p, vals, fmt) {
  vals.forEach(v => overlay.append('text').attr('x', 582).attr('y', p.y(v) + 3.5)
    .attr('font-family', AF).attr('font-size', 9.5).attr('fill', '#222').text(fmt ? fmt(v) : v));
}
function fibs(p, list) {
  list.forEach(([v, lab]) => {
    const yy = p.y(v);
    if (yy >= p.top - 0.5 && yy <= p.bottom + 0.5) hline(p, v, '#1a1a1a', 1);
    overlay.append('text').attr('x', 606).attr('y', yy - 2).attr('text-anchor', 'end')
      .attr('font-family', AF).attr('font-size', 9).attr('fill', '#a0a0a0').text(lab);
  });
}
function legend(yy, parts, iconColor, icon) {
  if (icon === 'mount') {
    overlay.append('path').attr('d', `M17,${yy + 3} L19,${yy - 3} L21,${yy} L23,${yy - 4} L25,${yy + 3} Z`).attr('fill', iconColor);
  } else {
    overlay.append('line').attr('x1', 21).attr('x2', 28).attr('y1', yy).attr('y2', yy).attr('stroke', iconColor).attr('stroke-width', 2);
  }
  const t = overlay.append('text').attr('x', icon === 'mount' ? 27 : 31).attr('y', yy + 3).attr('font-family', VF).attr('font-size', 8.6);
  parts.forEach(([s, c]) => t.append('tspan').attr('fill', c).text(s));
}

// ---------- header ----------
const h1 = overlay.append('text').attr('x', 3).attr('y', 12).attr('font-family', AF);
h1.append('tspan').attr('font-size', 13).attr('font-weight', 'bold').text('$INDU:$XAU');
h1.append('tspan').attr('font-size', 9.3).attr('dx', 4).text('Dow Jones Industrial Average/Gold & Silver Index - Philadelphia');
h1.append('tspan').attr('font-size', 7.5).attr('dx', 4).text('INDX');
overlay.append('text').attr('x', 605).attr('y', 12).attr('text-anchor', 'end').attr('font-family', AF).attr('font-size', 11.5).attr('fill', '#777').text('\u00A9StockCharts.com');
overlay.append('text').attr('x', 3).attr('y', 23).attr('font-family', AF).attr('font-size', 10).text('2-Oct-2015');
const h2 = overlay.append('text').attr('x', 597).attr('y', 23).attr('text-anchor', 'end').attr('font-family', AF).attr('font-size', 9.6);
[['Open', 1], [' 332.05  ', 0], ['High', 1], [' 336.01  ', 0], ['Low', 1], [' 326.65  ', 0], ['Close', 1], [' 336.01  ', 0], ['Chg', 1], [' -16.10 (-4.57%)', 0]]
  .forEach(([s, b]) => h2.append('tspan').attr('font-weight', b ? 'bold' : 'normal').attr('xml:space', 'preserve').text(s));
overlay.append('path').attr('d', 'M599,18 L605,18 L602,22 Z').attr('fill', '#d00');

// ---------- RSI panel ----------
const pRsi = makePanel(22, 86, [25.7, 108.3], d3.range(30, 110, 10));
fillBeyond(pRsi, rsi, 70, true, '#0b0b3a');
hline(pRsi, 90, '#1a1a1a', 1);
hline(pRsi, 70, '#5533cc', 1.3);
hline(pRsi, 30, '#5533cc', 1.3);
hline(pRsi, 50, '#5533cc', 1.2, '6,2,1,2');
fibs(pRsi, fibRsi.filter(f => f[0] < 90));
overlay.append('text').attr('x', 606).attr('y', pRsi.y(97.25) + 6).attr('text-anchor', 'end').attr('font-family', AF).attr('font-size', 9).attr('fill', '#a0a0a0').text(fibRsi[0][1]);
drawLine(pRsi, rsi, '#7a55c9', 1);
ticks(pRsi, [90, 70, 50, 30]);
legend(29, [['RSI(13) 66.32', '#111']], '#0b0b3a', 'mount');

// ---------- Main price panel ----------
const pMain = makePanel(86, 376, [3.3, 422.7], d3.range(12.5, 420, 12.5));
const yVol = d3.scaleLinear().domain([0, 0.30]).range([377, 302.6]);
volume.forEach(v => pMain.d.append('rect').attr('x', x(v[0]) - 0.8).attr('width', 1.6).attr('y', yVol(v[1])).attr('height', yVol(0) - yVol(v[1])).attr('fill', '#8aa28e'));
fibs(pMain, fibMain);
const maSeries = [
  [ma200, '#ff00ff'], [ema233, '#3fe0e0'], [ma144, '#a5a5a5'], [ma100, '#0b6b2b'], [ema155, '#111'],
  [ema89, '#c4603c'], [ema55, '#d56b3a'], [ema34, '#ff4a22'], [ma40, '#b32a2a'], [ema21, '#8a5ce6'], [ma20, '#2e2eb0']
];
maSeries.forEach(([d, c]) => drawLine(pMain, d, c, 1.1, d3.curveMonotoneX));
drawLine(pMain, price, '#000', 1.4);
ticks(pMain, d3.range(25, 400, 25));
[0.30, 0.25, 0.20, 0.15, 0.10, 0.05].forEach(v => overlay.append('text').attr('x', 2).attr('y', yVol(v) + 3.5).attr('font-family', AF).attr('font-size', 9.5).attr('fill', '#222').text(v.toFixed(2)));
const mainLeg = [
  ['$INDU:$XAU (Monthly) 336.01', '#000'], ['MA(20) 248.16', '#2e2eb0'], ['MA(40) 187.85', '#b32a2a'], ['MA(100) 114.95', '#0b6b2b'],
  ['MA(200) 124.03', '#ff00ff'], ['EMA(21) 257.08', '#8a5ce6'], ['EMA(34) 221.01', '#ff4a22'], ['EMA(55) 184.34', '#d56b3a'],
  ['EMA(89) 154.05', '#c4603c'], ['MA(144) 109.64', '#a5a5a5'], ['EMA(155) 129.22', '#111'], ['EMA(233) 108.47', '#3fe0e0']
];
mainLeg.forEach(([s, c], i) => legend(120.7 + i * 8.6, [[s, c]], c));
{
  const yy = 120.7 + 12 * 8.6;
  [0, 2, 4].forEach((dx, i) => overlay.append('rect').attr('x', 21 + dx).attr('y', yy + 3 - [3, 5, 4][i]).attr('width', 1.4).attr('height', [3, 5, 4][i]).attr('fill', '#8aa28e'));
  overlay.append('text').attr('x', 28).attr('y', yy + 3).attr('font-family', VF).attr('font-size', 8.6).attr('fill', '#8aa28e').text('Volume undef');
}
// wave labels
const waves = [['1', 1993.08, 57, '#000'], ['2', 1994.41, 15, '#000'], ['3', 1998.52, 149, '#000'], ['4', 1999.28, 100, '#000'], ['5', 2000.93, 261, '#000'],
  ['b', 2008.97, 122, '#e02020'], ['c', 2011.0, 42, '#e02020'], ['2', 2011.7, 47, '#000'], ['3', 2013.53, 196, '#000']];
waves.forEach(([s, t, v, c]) => overlay.append('text').attr('x', x(t)).attr('y', pMain.y(v) + 3.5).attr('text-anchor', 'middle')
  .attr('font-family', AF).attr('font-weight', 'bold').attr('font-size', 10.5).attr('fill', c).text(s));
overlay.append('text').attr('x', 579).attr('y', 114).attr('font-family', AF).attr('font-weight', 'bold').attr('font-size', 11).text('5?');
yearTicks.forEach((yr, i) => overlay.append('text').attr('x', x(yr + 0.5) + 2).attr('y', 386).attr('text-anchor', 'middle')
  .attr('font-family', AF).attr('font-size', 9.5).attr('fill', '#222').text(yearLabels[i]));

// ---------- MACD ----------
const pMacd = makePanel(388, 480, [-39.5, 128.7], d3.range(-37.5, 131, 12.5));
fibs(pMacd, fibMacd);
macdHist.forEach((v, i) => {
  const t = histStart + i * histStep;
  pMacd.d.append('rect').attr('x', x(t) - 1.1).attr('width', 2.2)
    .attr('y', Math.min(pMacd.y(v), pMacd.y(0))).attr('height', Math.abs(pMacd.y(v) - pMacd.y(0)))
    .attr('fill', v >= 0 ? '#8c8c8c' : '#7b6cc6');
});
drawLine(pMacd, macdSignal, '#6a44c8', 1.1);
drawLine(pMacd, macd, '#000', 1.3);
ticks(pMacd, [100, 75, 50, 25, 0, -25]);
legend(397.7, [['MACD(5,34,5) 107.785, ', '#111'], ['99.999, ', '#6a44c8'], ['7.787', '#888']], '#000');

// ---------- ROC ----------
const pRoc = makePanel(480, 575, [-66.7, 186.7], d3.range(-50, 186, 25));
fibs(pRoc, fibRoc);
hline(pRoc, 0, '#111', 1, '4,2');
drawLine(pRoc, roc, '#000', 1.2);
ticks(pRoc, [150, 100, 50, 0, -50]);
legend(486.7, [['ROC(13) 59.90%', '#111']], '#000');

// ---------- STO panels ----------
function stoPanel(top, bottom, y80, dashVals, kData, dData, legParts, legY, smooth) {
  const a = 0.805;
  const dom = [80 - (bottom - y80) / a, 80 + (y80 - top) / a];
  const p = makePanel(top, bottom, dom, d3.range(0, 110, 10));
  hline(p, 80, '#3f8f5e', 1.4);
  hline(p, 20, '#5f9f7a', 1.8);
  hline(p, 50, '#3f8f5e', 1.2, '7,2,2,2');
  dashVals.forEach(v => hline(p, v, '#111', 1.3, '3,2'));
  drawLine(p, dData, '#ff3a1a', 1.1, smooth ? d3.curveMonotoneX : d3.curveLinear);
  drawLine(p, kData, '#000', 1.3, smooth ? d3.curveMonotoneX : d3.curveLinear);
  ticks(p, [80, 50, 20]);
  legend(legY, legParts, '#000');
  return p;
}
stoPanel(575, 661, 596.7, [100.7, 42, 5.5], sto1K, sto1D, [['Full STO %K(18,3) %D(3) 79.22, ', '#111'], ['85.46', '#ff3a1a']], 580, false);
stoPanel(661, 753, 689, [96.2, 7.6], sto2K, sto2D, [['Full STO %K(21,8) %D(13) 86.40, ', '#111'], ['85.47', '#ff3a1a']], 672.7, true);
stoPanel(753, 847, 780.7, [96.8, 6.6], sto3K, sto3D, [['Full STO %K(34,13) %D(21) 90.36, ', '#111'], ['89.71', '#ff3a1a']], 764, true);

// ---------- BB Width ----------
const pBB = makePanel(847, 941, [20, 162.4], d3.range(25, 162, 12.5));
fibs(pBB, fibBB);
hline(pBB, 86.60, '#8e8e8e', 3);
drawLine(pBB, bbWidth, '#000', 1.3);
ticks(pBB, [150, 125, 100, 75, 50, 25]);
legend(856.7, [['BB Width(21,2.1) 109.941', '#111']], '#000');

// ---------- ADX ----------
const pAdx = makePanel(941, 1036, [0.9, 77.2], d3.range(5, 77, 5));
fibs(pAdx, fibAdx);
drawLine(pAdx, minusDI, '#ff3a1a', 1.1);
drawLine(pAdx, plusDI, '#2e7d46', 1.1);
drawLine(pAdx, adx, '#000', 1.4, d3.curveMonotoneX);
ticks(pAdx, [70, 60, 50, 40, 30, 20, 10]);
legend(949, [['ADX(13) 34.78 ', '#111'], ['+DI 49.21 ', '#2e7d46'], ['-DI 28.99', '#ff3a1a']], '#000');

// ---------- StochRSI ----------
const pSr = makePanel(1036, 1128, [-0.078, 1.062], d3.range(0, 1.05, 0.1));
fillBeyond(pSr, stochRsi, 0.8, true, '#9c9cd4');
fillBeyond(pSr, stochRsi, 0.2, false, '#9c9cd4');
hline(pSr, 0.8, '#94379c', 1.3);
hline(pSr, 0.2, '#94379c', 1.3);
hline(pSr, 0.5, '#94379c', 1.2, '7,2,2,2');
drawLine(pSr, stochRsi, '#7a3fb0', 1.1);
ticks(pSr, [1.0, 0.8, 0.5, 0.2, 0.0], v => v.toFixed(1));
legend(1041, [['StochRSI(13) 0.397', '#111']], '#7a5fb0', 'mount');

// ---------- AROON ----------
const pAr = makePanel(1128, 1212, [1.0, 107.1], d3.range(0, 107, 10));
hline(pAr, 70, '#2e7d46', 1.3);
hline(pAr, 30, '#2e7d46', 1.3);
hline(pAr, 50, '#2e7d46', 1.2, '7,2,2,2');
drawLine(pAr, aroonDown, '#c4102c', 1.3);
drawLine(pAr, aroonUp, '#1f7a3c', 1.3);
ticks(pAr, [90, 70, 50, 30, 10]);
legend(1133.3, [['AROON(21) ', '#111'], ['Up 85.7 ', '#1f7a3c'], ['Down 4.8', '#c4102c']], '#1f7a3c');
yearTicks.forEach((yr, i) => overlay.append('text').attr('x', x(yr + 0.5) + 2).attr('y', 1222).attr('text-anchor', 'middle')
  .attr('font-family', AF).attr('font-size', 9.5).attr('fill', '#222').text(yearLabels[i]));

// panel borders
const borders = svg.append('g');
panels.forEach(p => borders.append('rect').attr('x', L).attr('y', p.top).attr('width', R - L).attr('height', p.bottom - p.top)
  .attr('fill', 'none').attr('stroke', '#555').attr('stroke-width', 1));

// bring texts above everything drawn so far
overlay.raise();

// ---------- callouts ----------
const notes = svg.append('g');
function callout(box, lines, wedges, color) {
  const [x0, y0, x1, y1] = box;
  wedges.forEach(w => notes.append('polygon').attr('points', w.map(p => p.join(',')).join(' '))
    .attr('fill', '#fff').attr('stroke', '#8a8a8a').attr('stroke-width', 1));
  notes.append('rect').attr('x', x0 + 2).attr('y', y0 + 2).attr('width', x1 - x0).attr('height', y1 - y0).attr('fill', '#b5b5b5');
  notes.append('rect').attr('x', x0).attr('y', y0).attr('width', x1 - x0).attr('height', y1 - y0).attr('fill', '#fff').attr('stroke', '#8a8a8a');
  wedges.forEach(w => notes.append('polygon').attr('points', w.map(p => p.join(',')).join(' ')).attr('fill', '#fff').attr('stroke', 'none'));
  wedges.forEach(w => notes.append('polyline').attr('points', [w[0], w[1], w[2]].map(p => p.join(',')).join(' '))
    .attr('fill', 'none').attr('stroke', '#8a8a8a'));
  const lh = 15, cy = (y0 + y1) / 2 - (lines.length - 1) * lh / 2;
  lines.forEach((s, i) => notes.append('text').attr('x', (x0 + x1) / 2).attr('y', cy + i * lh + 4).attr('text-anchor', 'middle')
    .attr('font-family', AF).attr('font-weight', 'bold').attr('font-size', 11).attr('fill', color || '#000').text(s));
}
// wedge order: [base1, tip, base2]
callout([462, 23, 559, 37], ['Negative Divergence'], [[[541, 36], [571, 46], [556, 36]]]);
callout([388, 113, 515, 143], ['One more surge to the Fib', 'target going into year end.'], [[[514, 118], [568, 104], [514, 128]]]);
callout([387, 157, 513, 169], ['Fibonacci Resonance Target'],
  [[[394, 168], [x(2000.93) + 3, pMain.y(253)], [418, 168]], [[495, 158], [569, 106], [512, 160]], [[512, 161], [553, 196], [505, 168]]]);
callout([459, 230, 518, 245], ['Fib Support'], [[[484, 231], [493, 208], [498, 231]], [[479, 244], [478, 268], [493, 244]]]);
callout([119, 165, 176, 180], ['Swing Line'], [[[120, 166], [97, 163], [120, 174]]], '#3a22b8');
callout([123, 210, 193, 224], ['Trend Definer'], [[[124, 211], [98, 207], [124, 218]]]);
callout([336, 347, 412, 363], ['Ultimate Target'], [[[411, 351], [565, 371], [411, 360]]]);
callout([316, 310, 437, 338], ['This should mark a top for', 'precious metals shares.'], [[[353, 337], [362, 348], [372, 337]], [[378, 337], [388, 348], [397, 337]]]);
callout([462, 392, 517, 410], ['Fib Target'], [[[516, 402], [546, 421], [510, 409]], [[505, 393], [574, 386], [516, 397]]]);
callout([510, 552, 571, 567], ['Fib Support'], [[[558, 553], [580, 540], [570, 557]]]);
notes.raise();
</script>
</body></html>
